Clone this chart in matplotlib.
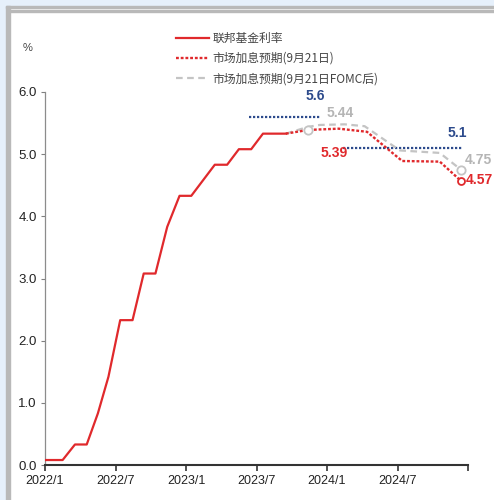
import matplotlib
matplotlib.use("Agg")
import matplotlib.pyplot as plt
from matplotlib.patches import Rectangle
from matplotlib.lines import Line2D

plt.rcParams['font.family'] = ['Liberation Sans Narrow', 'Liberation Sans', 'DejaVu Sans']

# months counted from 2022/1
ffr_x = [0, 1.5, 2.55, 3.55, 4.5, 5.4, 6.4, 7.45, 8.4, 9.4, 10.4, 11.45,
         12.45, 14.45, 15.5, 16.5, 17.55, 18.55, 20.5]
ffr_y = [0.08, 0.08, 0.33, 0.33, 0.83, 1.42, 2.33, 2.33, 3.08, 3.08, 3.83, 4.33,
         4.33, 4.83, 4.83, 5.08, 5.08, 5.33, 5.33]

exp_x = [20.5, 22.4, 25.0, 27.4, 30.4, 33.6, 35.4]
exp_sep21 = [5.33, 5.39, 5.41, 5.36, 4.89, 4.88, 4.57]

fomc_x = [20.5, 22.4, 23.4, 25.5, 27.2, 30.2, 33.6, 35.4]
exp_fomc = [5.33, 5.44, 5.47, 5.48, 5.45, 5.06, 5.02, 4.75]

dot_2023 = 5.6
dot_2024 = 5.1
dot_2023_span = [17.4, 23.45]
dot_2024_span = [25.4, 35.5]

tick_pos = [0, 6, 12, 18, 24, 30, 36]
tick_lab = ['2022/1', '2022/7', '2023/1', '2023/7', '2024/1', '2024/7', '']

red = '#e0292c'
grey = '#c4c4c4'
navy = '#2c4a8c'
cjk = ['Noto Sans CJK SC', 'DejaVu Sans']

fig = plt.figure(figsize=(4.94, 5.0), dpi=100)
fig.patch.set_facecolor('white')
W, H = 494, 500
# page background and frame
fig.patches.append(Rectangle((0, 0), 6 / W, 1, transform=fig.transFigure,
                             color='#e6f0fb', zorder=-3))
fig.patches.append(Rectangle((0, 1 - 6 / H), 1, 6 / H, transform=fig.transFigure,
                             color='#e6f0fb', zorder=-3))
fig.patches.append(Rectangle((6 / W, 0), 4 / W, 1 - 6 / H, transform=fig.transFigure,
                             color='#b9b9b9', zorder=-2))
fig.patches.append(Rectangle((6 / W, 1 - 8 / H), 1, 2 / H, transform=fig.transFigure,
                             color='#b9b9b9', zorder=-2))
fig.patches.append(Rectangle((10 / W, 1 - 12 / H), 1, 2 / H, transform=fig.transFigure,
                             color='#b9b9b9', zorder=-2))

ax = fig.add_axes([45 / W, 35 / H, 423 / W, 373 / H])
ax.set_xlim(0, 36)
ax.set_ylim(0, 6)

ax.plot(ffr_x, ffr_y, color=red, lw=1.6, label='联邦基金利率', zorder=4)
ax.plot(exp_x, exp_sep21, color=red, lw=1.7, ls=(0, (1.2, 0.8)),
        label='市场加息预期(9月21日)', zorder=4)
ax.plot(fomc_x, exp_fomc, color=grey, lw=1.6, ls=(0, (3, 2)),
        label='市场加息预期(9月21日FOMC后)', zorder=3)

ax.plot(dot_2023_span, [dot_2023] * 2, color=navy, lw=1.6, ls=(0, (1, 0.8)), zorder=2)
ax.plot(dot_2024_span, [dot_2024] * 2, color=navy, lw=1.6, ls=(0, (1, 0.8)), zorder=2)

ax.plot(exp_x[1], exp_sep21[1], 'o', ms=6, mfc='white', mec=grey, mew=1.3, zorder=5)
ax.plot(fomc_x[-1], exp_fomc[-1], 'o', ms=6, mfc='white', mec=grey, mew=1.3, zorder=5)
ax.plot(exp_x[-1], exp_sep21[-1], 'o', ms=5, mfc='white', mec=red, mew=1.3, zorder=5)

lab_kw = dict(fontsize=10, fontweight='bold', ha='center', va='center', clip_on=False)
ax.text(23.0, 5.93, f'{dot_2023:g}', color=navy, **lab_kw)
ax.text(35.1, 5.34, f'{dot_2024:g}', color=navy, **lab_kw)
ax.text(25.1, 5.66, f'{exp_fomc[1]:.2f}', color='#b5b5b5', **lab_kw)
ax.text(24.6, 5.02, f'{exp_sep21[1]:.2f}', color=red, **lab_kw)
lab_kw['ha'] = 'left'
ax.text(35.75, 4.90, f'{exp_fomc[-1]:.2f}', color='#b5b5b5', **lab_kw)
ax.text(35.85, 4.58, f'{exp_sep21[-1]:.2f}', color=red, **lab_kw)

ax.set_xticks(tick_pos)
ax.set_xticklabels(tick_lab)
ax.set_yticks([0, 1, 2, 3, 4, 5, 6])
ax.set_yticklabels([f'{v:.1f}' for v in range(7)])
ax.tick_params(axis='y', length=3, width=0.8, color='#808080', labelsize=9.5,
               labelcolor='#222222', pad=3)
ax.tick_params(axis='x', length=4, width=1.2, color='#333333', labelsize=9,
               labelcolor='#222222', pad=3)
for s in ['top', 'right']:
    ax.spines[s].set_visible(False)
ax.spines['left'].set_color('#8c8c8c')
ax.spines['left'].set_linewidth(0.9)
ax.spines['bottom'].set_color('#333333')
ax.spines['bottom'].set_linewidth(1.5)

fig.text(28 / W, 1 - 48 / H, '%', fontsize=8, color='#444444', ha='center', va='center')

handles = [Line2D([], [], color=red, lw=1.6),
           Line2D([], [], color=red, lw=1.7, ls=(0, (1.2, 0.8))),
           Line2D([], [], color=grey, lw=1.6, ls=(0, (3, 2)))]
labels = ['联邦基金利率', '市场加息预期(9月21日)', '市场加息预期(9月21日FOMC后)']
leg = fig.legend(handles, labels, loc='upper left',
                 bbox_to_anchor=(170 / W, 1 - 26 / H), frameon=False,
                 prop={'family': cjk, 'size': 8.5}, handlelength=2.8,
                 handletextpad=0.3, labelspacing=0.6, borderpad=0)
for t in leg.get_texts():
    t.set_color('#444444')

fig.savefig('out.png', dpi=100)
